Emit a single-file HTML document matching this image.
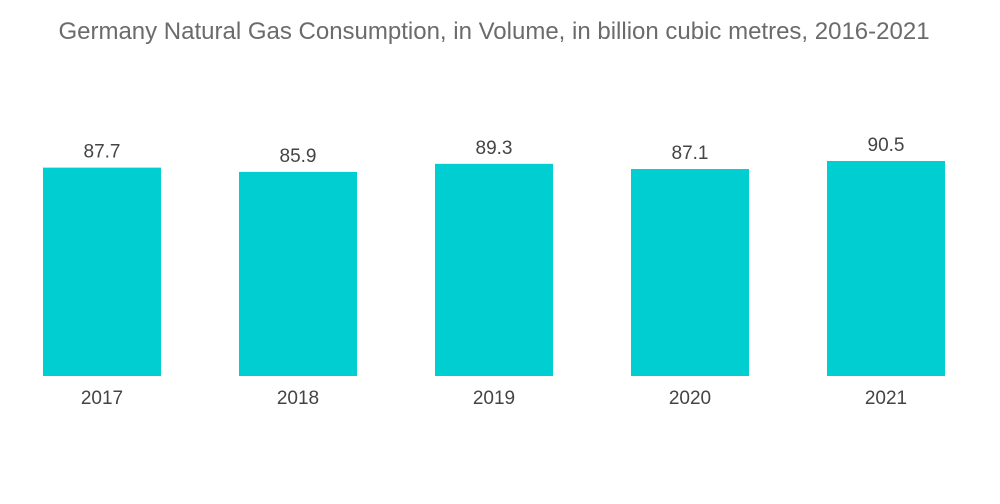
<!DOCTYPE html>
<html><head><meta charset="utf-8"><style>
body{margin:0;background:#fff;font-family:"Liberation Sans",sans-serif;}
svg{display:block}
</style></head><body>
<svg id="chart" width="1000" height="504">
<text x="494" y="39" text-anchor="middle" font-size="24" fill="#6b6b6b">Germany Natural Gas Consumption, in Volume, in billion cubic metres, 2016-2021</text>
<g id="bars"></g>
</svg>
<script>
const categories=["2017","2018","2019","2020","2021"];
const values=[87.7,85.9,89.3,87.1,90.5];
const valueLabels=["87.7","85.9","89.3","87.1","90.5"];
const baseY=376, scale=2.376, x0=43, step=196, bw=118;
const xPos=i=>x0+i*step;
const yPos=v=>baseY-v*scale;
const g=document.getElementById('bars');
const ns='http://www.w3.org/2000/svg';
categories.forEach((c,i)=>{
  const r=document.createElementNS(ns,'rect');
  r.setAttribute('x',xPos(i));r.setAttribute('y',yPos(values[i]));
  r.setAttribute('width',bw);r.setAttribute('height',baseY-yPos(values[i]));
  r.setAttribute('fill','#00ced1');
  
  
  g.appendChild(r);
  const t=document.createElementNS(ns,'text');
  t.setAttribute('x',xPos(i)+bw/2);t.setAttribute('y',yPos(values[i])-10);
  t.setAttribute('text-anchor','middle');t.setAttribute('font-size','19');t.setAttribute('fill','#444');
  t.textContent=valueLabels[i];
  
  
  g.appendChild(t);
  const l=document.createElementNS(ns,'text');
  l.setAttribute('x',xPos(i)+bw/2);l.setAttribute('y',404);
  l.setAttribute('text-anchor','middle');l.setAttribute('font-size','19');l.setAttribute('fill','#444');
  l.textContent=c;
  
  
  g.appendChild(l);
});
</script>
</body></html>
